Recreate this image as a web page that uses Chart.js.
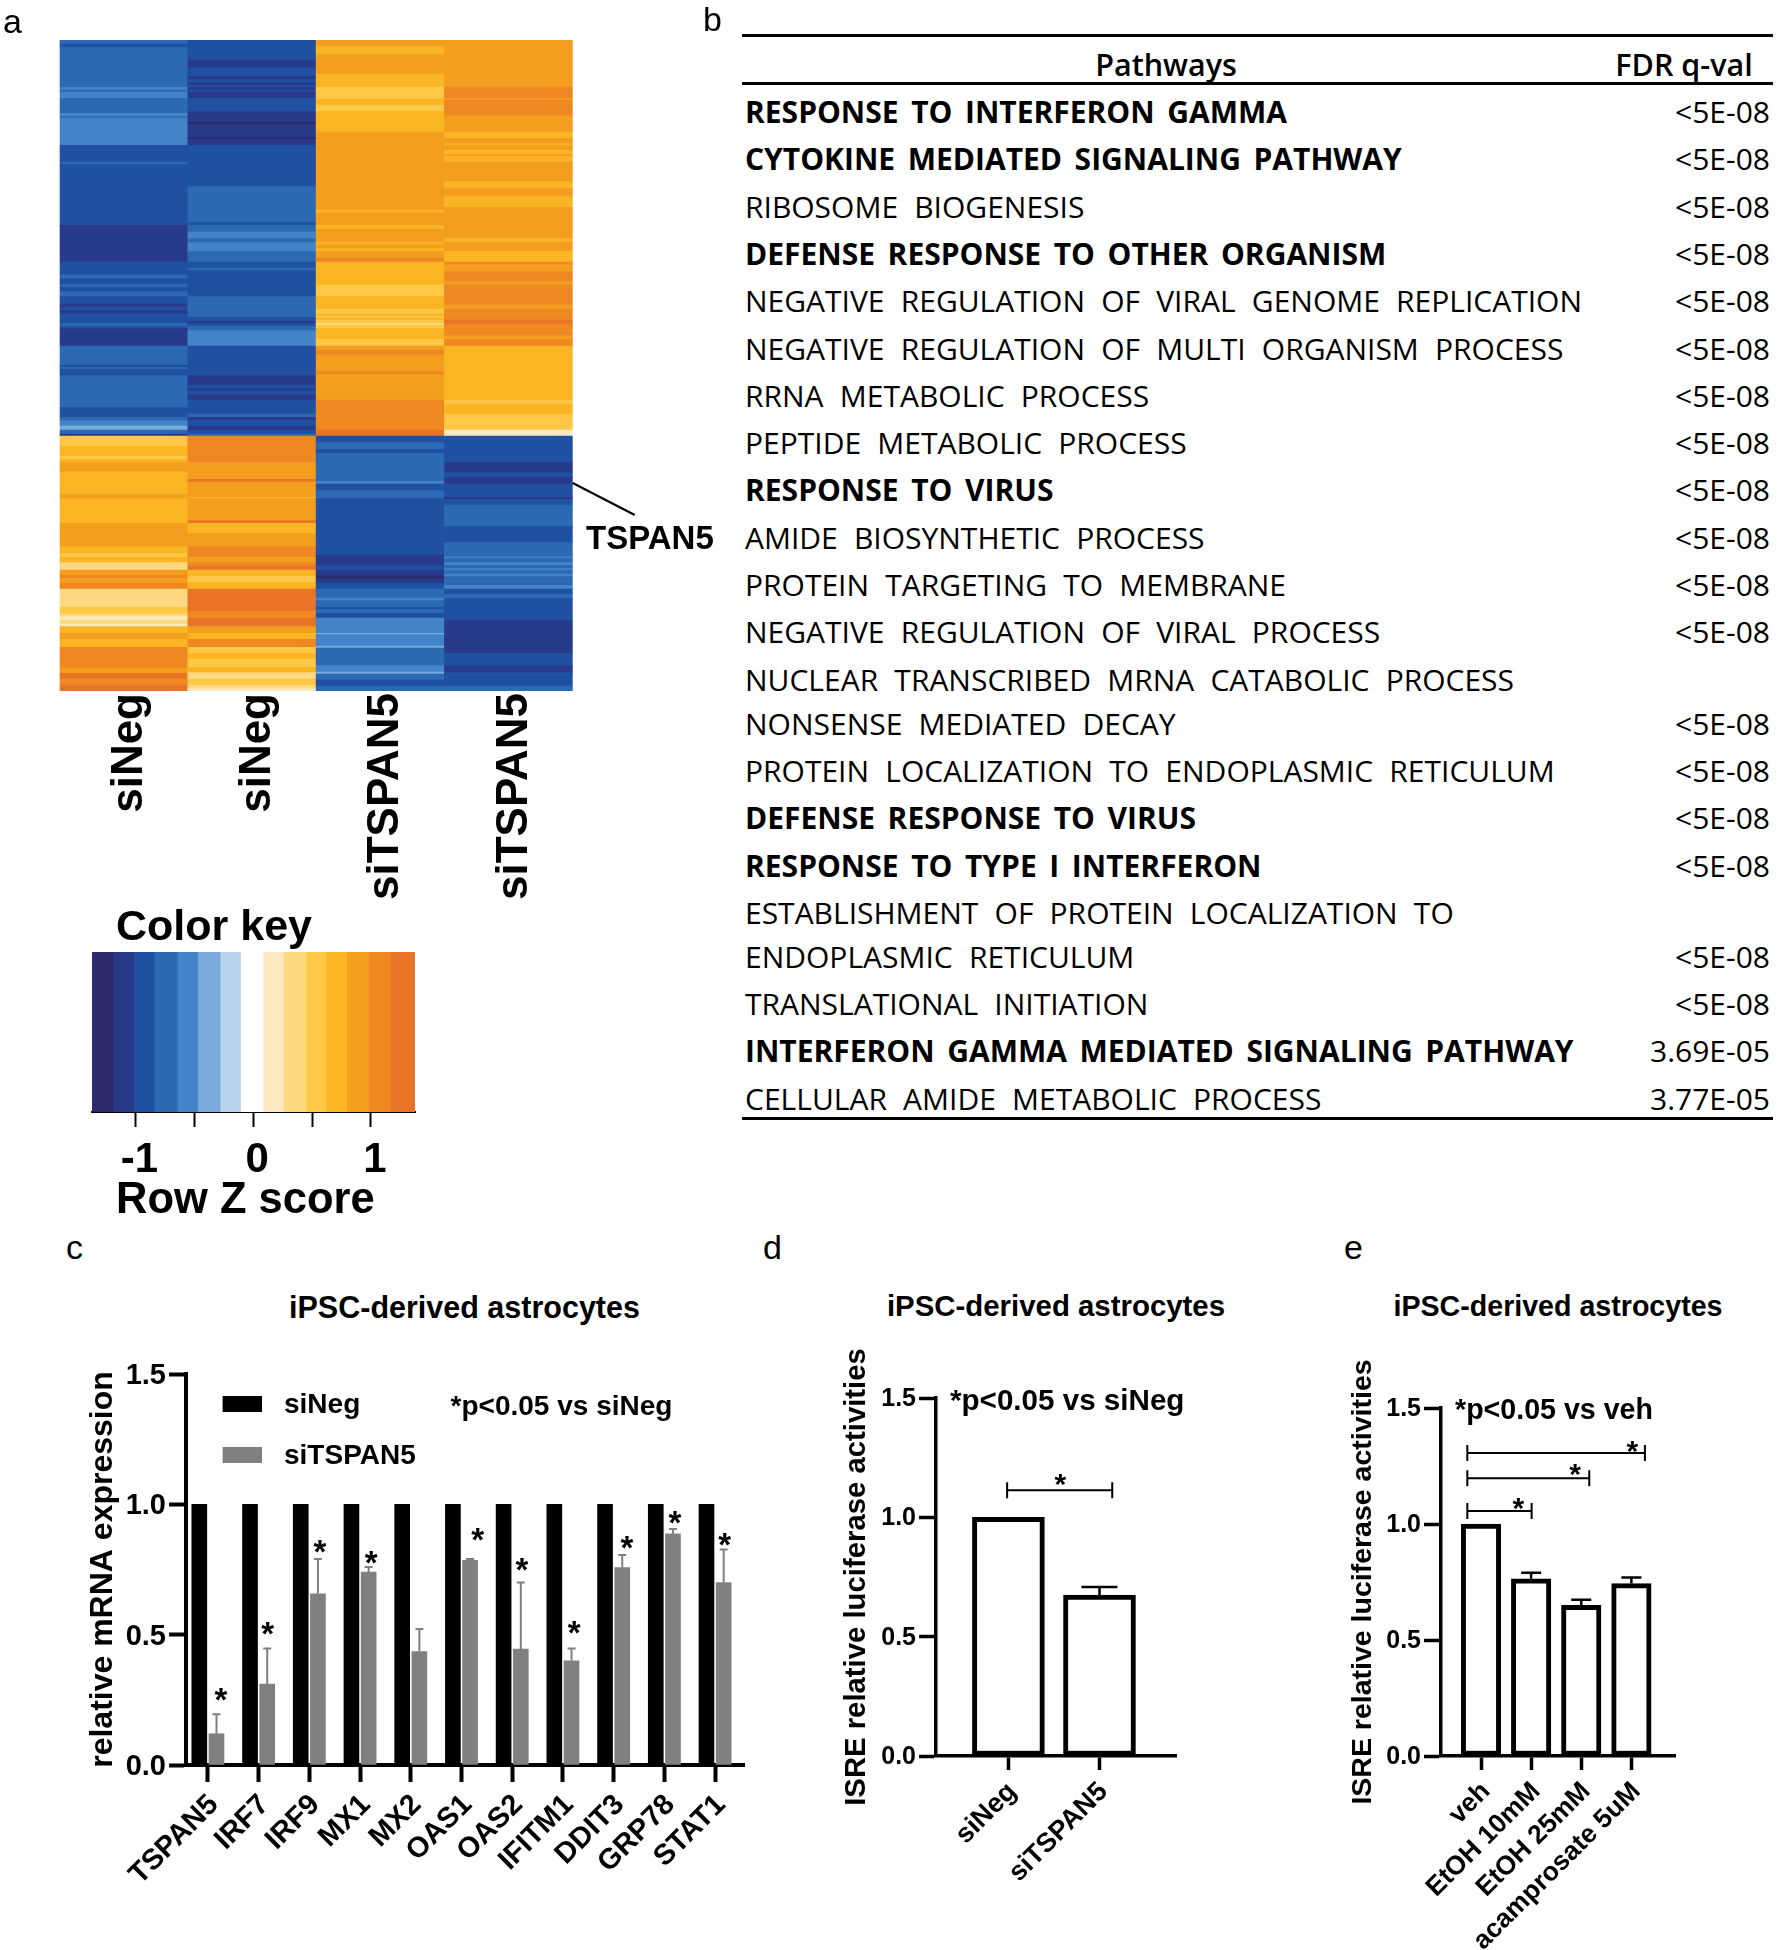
<!DOCTYPE html>
<html>
<head>
<meta charset="utf-8">
<title>TSPAN5 figure</title>
<script src="https://cdn.jsdelivr.net/npm/chart.js@4/dist/chart.umd.min.js"></script>
<style>
	body { margin: 0; background: #fff; width: 1778px; height: 1950px; overflow: hidden; position: relative; font-family: "Liberation Sans", sans-serif; color: #000; }
	canvas { position: absolute; }
	.txt { position: absolute; white-space: pre; transform: translateY(-50%); }
	.row { position: absolute; white-space: pre; font-family: "Open Sans", sans-serif; font-size: 30px; line-height: 34px; word-spacing: 0.28em; }
	.row.strong { font-weight: 700; word-spacing: 0.16em; }
	.head { position: absolute; white-space: pre; font-family: "Open Sans", sans-serif; font-size: 30.5px; font-weight: 600; transform: translate(-50%,-50%); }
	.rule { position: absolute; background: #000; left: 742px; width: 1031px; }
</style>
</head>
<body>
<canvas id="heat" width="720" height="900" style="left:0;top:30px"></canvas>
<canvas id="key" width="400" height="250" style="left:60px;top:940px"></canvas>
<canvas id="chartC" width="690" height="610" style="left:80px;top:1342px"></canvas>
<canvas id="chartD" width="370" height="620" style="left:830px;top:1332px"></canvas>
<canvas id="chartE" width="370" height="610" style="left:1335px;top:1342px"></canvas>
<script>
// heatmap: each column is a list of [last row of the run, colour level]
const heatSamples = ['siNeg', 'siNeg', 'siTSPAN5', 'siTSPAN5'];
const heatRowCount = 1953;
const tspan5Row = 1329;
const heatCol1 = [[12,3],[22,2],[142,3],[150,4],[156,3],[175,4],[220,3],[230,4],[234,3],[316,4],[366,2],[374,3],[556,2],[666,1],[705,2],[716,3],[732,2],[742,3],[755,2],[770,3],[792,2],[802,1],[812,2],[822,1],[850,2],[860,3],[866,2],[918,1],[975,3],[982,2],[988,3],[1007,2],[1103,3],[1132,2],[1142,3],[1158,4],[1170,5],[1182,3],[1188,1],
	[1220,10],[1248,11],[1258,10],[1267,11],[1295,12],[1364,11],[1376,12],[1450,11],[1520,12],[1540,11],[1552,10],[1568,11],[1590,9],[1605,12],[1615,13],[1630,12],[1647,13],[1702,9],[1722,10],[1730,9],[1740,8],[1752,9],[1760,8],[1780,11],[1798,12],[1822,11],[1885,13],[1900,12],[1916,14],[1935,13],[1953,14]];
const heatCol2 = [[60,2],[83,1],[110,2],[118,1],[128,2],[136,1],[142,2],[150,1],[156,2],[175,1],[215,2],[246,1],[254,0],[292,1],[298,0],[316,1],[440,2],[548,3],[556,2],[576,3],[596,4],[608,3],[635,4],[666,3],[684,2],[692,3],[770,2],[832,3],[845,2],[851,1],[858,2],[872,3],[918,4],[1007,2],[1035,1],[1045,2],[1053,1],[1065,2],[1080,1],[1122,2],[1132,3],[1142,1],[1158,2],[1170,1],[1182,2],[1188,3],
	[1267,13],[1318,12],[1326,14],[1372,12],[1376,11],[1442,12],[1450,14],[1480,11],[1520,12],[1552,13],[1568,12],[1578,13],[1590,14],[1608,11],[1628,10],[1647,11],[1714,14],[1734,13],[1760,14],[1780,12],[1798,11],[1822,13],[1840,10],[1857,11],[1882,10],[1898,11],[1918,9],[1936,10],[1946,9],[1953,8]];
const heatCol3 = [[20,12],[44,11],[102,12],[141,11],[177,10],[195,11],[215,10],[276,11],[510,12],[519,11],[556,12],[568,11],[606,12],[615,11],[626,12],[634,11],[654,12],[666,13],[735,11],[770,10],[808,11],[822,10],[828,11],[834,10],[840,11],[850,10],[856,9],[866,10],[898,11],[918,10],[930,12],[945,13],[995,12],[1004,13],[1080,12],[1170,13],[1188,14],
	[1208,2],[1228,3],[1240,2],[1324,3],[1332,4],[1352,2],[1376,3],[1545,2],[1577,1],[1590,2],[1608,1],[1616,0],[1630,1],[1647,2],[1674,3],[1682,4],[1702,3],[1708,2],[1720,3],[1734,2],[1780,4],[1784,5],[1818,4],[1824,5],[1877,3],[1896,4],[1902,5],[1920,3],[1940,2],[1953,3]];
const heatCol4 = [[141,12],[175,13],[180,12],[227,13],[276,12],[296,11],[311,12],[317,11],[330,12],[344,11],[350,12],[366,11],[425,12],[444,11],[470,12],[502,11],[595,12],[607,11],[634,12],[666,11],[674,13],[695,12],[724,13],[735,12],[795,13],[808,12],[840,13],[852,14],[887,13],[898,12],[918,13],[1080,11],[1092,10],[1123,11],[1170,10],[1188,8],
	[1267,2],[1298,1],[1312,2],[1332,1],[1372,2],[1378,1],[1395,2],[1460,3],[1508,2],[1550,3],[1556,4],[1568,3],[1576,4],[1586,3],[1592,4],[1602,3],[1610,4],[1636,3],[1647,4],[1662,2],[1676,3],[1742,2],[1840,1],[1877,2],[1898,1],[1938,2],[1953,3]];
const heatColumns = [heatCol1, heatCol2, heatCol3, heatCol4];

// colour key
const keyColors = ['#2d2a6c','#283a8a','#2050a2','#2b69b2','#4383c7','#7aaadb','#b9d3ec','#ffffff','#fdeac0','#fed980','#fec745','#f9b522','#f39e1f','#f08822','#ea7425'];
const keyEdges = [-1.369,-1.18,-1.007,-0.835,-0.64,-0.467,-0.275,-0.102,0.09,0.26,0.455,0.628,0.8,0.99,1.168,1.375];
const keyTicks = [-1,-0.5,0,0.5,1];

// panel b
const pathways = [
	'RESPONSE TO INTERFERON GAMMA',
	'CYTOKINE MEDIATED SIGNALING PATHWAY',
	'RIBOSOME BIOGENESIS',
	'DEFENSE RESPONSE TO OTHER ORGANISM',
	'NEGATIVE REGULATION OF VIRAL GENOME REPLICATION',
	'NEGATIVE REGULATION OF MULTI ORGANISM PROCESS',
	'RRNA METABOLIC PROCESS',
	'PEPTIDE METABOLIC PROCESS',
	'RESPONSE TO VIRUS',
	'AMIDE BIOSYNTHETIC PROCESS',
	'PROTEIN TARGETING TO MEMBRANE',
	'NEGATIVE REGULATION OF VIRAL PROCESS',
	'NUCLEAR TRANSCRIBED MRNA CATABOLIC PROCESS\nNONSENSE MEDIATED DECAY',
	'PROTEIN LOCALIZATION TO ENDOPLASMIC RETICULUM',
	'DEFENSE RESPONSE TO VIRUS',
	'RESPONSE TO TYPE I INTERFERON',
	'ESTABLISHMENT OF PROTEIN LOCALIZATION TO\nENDOPLASMIC RETICULUM',
	'TRANSLATIONAL INITIATION',
	'INTERFERON GAMMA MEDIATED SIGNALING PATHWAY',
	'CELLULAR AMIDE METABOLIC PROCESS',
];
const fdrValues = ['<5E-08','<5E-08','<5E-08','<5E-08','<5E-08','<5E-08','<5E-08','<5E-08','<5E-08','<5E-08','<5E-08','<5E-08','<5E-08','<5E-08','<5E-08','<5E-08','<5E-08','<5E-08','3.69E-05','3.77E-05'];
const boldPathways = [0, 1, 3, 8, 14, 15, 18];

// panel c
const genes = ['TSPAN5','IRF7','IRF9','MX1','MX2','OAS1','OAS2','IFITM1','DDIT3','GRP78','STAT1'];
const siNegValues = [1,1,1,1,1,1,1,1,1,1,1];
const siTspanValues = [0.12,0.31,0.657,0.74,0.435,0.785,0.445,0.40,0.757,0.887,0.70];
const siTspanErrors = [0.195,0.447,0.79,0.76,0.522,0.79,0.70,0.447,0.806,0.905,0.827];
const geneStars = [0.272,0.522,0.837,0.796,null,0.883,0.768,0.529,0.853,0.951,0.865];
const geneStarX = [0.256,1.18,2.21,3.22,null,5.32,6.19,7.22,8.26,9.21,10.19];

// panel d
const dLabels = ['siNeg','siTSPAN5'];
const dValues = [1,0.674];
const dErrors = [null,0.708];

// panel e
const eLabels = ['veh','EtOH 10mM','EtOH 25mM','acamprosate 5uM'];
const eValues = [1,0.764,0.649,0.743];
const eErrors = [null,0.79,0.673,0.769];

const FONT = '"Liberation Sans", sans-serif';
Chart.defaults.color = '#000';
Chart.defaults.font.family = FONT;
Chart.defaults.animation = false;
Chart.defaults.responsive = false;
Chart.defaults.devicePixelRatio = 1;
Chart.defaults.plugins.legend.display = false;
Chart.defaults.plugins.tooltip.enabled = false;

const addText = (text, x, y, size, weight, anchor) => {
	const el = document.createElement('div');
	el.className = 'txt';
	el.innerText = text;
	el.style.left = x + 'px';
	el.style.top = y + 'px';
	el.style.fontSize = size + 'px';
	el.style.fontWeight = weight || 'bold';
	if (anchor == 'center') el.style.transform = 'translate(-50%,-50%)';
	document.body.appendChild(el);
};

// fixed size for the axis boxes so the plot areas land where the figure has them
const fixedWidth = (w) => (scale) => { scale.width = w; };
const fixedHeight = (h) => (scale) => { scale.height = h; };
const ticksAt = (values) => (scale) => { scale.ticks = values.map((value) => ({ value })); };
const indexes = (list) => list.map((_, i) => i);

const drawStar = (ctx, x, y, size) => {
	ctx.save();
	ctx.font = `bold ${size}px ${FONT}`;
	ctx.textAlign = 'center';
	ctx.textBaseline = 'alphabetic';
	ctx.fillStyle = '#000';
	ctx.fillText('*', x, y + size * 0.5);
	ctx.restore();
};

const errorPlugin = (errors, capHalf, width, color) => ({
	id: 'errors',
	afterDatasetsDraw(chart) {
		const { ctx, scales } = chart;
		const meta = chart.getDatasetMeta(chart.data.datasets.length - 1);
		ctx.save();
		ctx.strokeStyle = color;
		ctx.lineWidth = width;
		errors.forEach((top, i) => {
			if (top == null) return;
			const bar = meta.data[i];
			const y = scales.y.getPixelForValue(top);
			ctx.beginPath();
			ctx.moveTo(bar.x, bar.y);
			ctx.lineTo(bar.x, y);
			ctx.moveTo(bar.x - capHalf, y);
			ctx.lineTo(bar.x + capHalf, y);
			ctx.stroke();
		});
		ctx.restore();
	},
});

// significance brackets given as [from, to, level, star x, star y]
const bracketPlugin = (brackets, capHalf) => ({
	id: 'brackets',
	afterDraw(chart) {
		const { ctx, scales } = chart;
		ctx.save();
		ctx.strokeStyle = '#000';
		ctx.lineWidth = 2;
		for (const [from, to, level, starX, starY] of brackets) {
			const x1 = scales.x.getPixelForValue(from);
			const x2 = scales.x.getPixelForValue(to);
			const y = scales.y.getPixelForValue(level);
			ctx.beginPath();
			ctx.moveTo(x1, y);
			ctx.lineTo(x2, y);
			ctx.moveTo(x1, y - capHalf);
			ctx.lineTo(x1, y + capHalf);
			ctx.moveTo(x2, y - capHalf);
			ctx.lineTo(x2, y + capHalf);
			ctx.stroke();
			drawStar(ctx, scales.x.getPixelForValue(starX), scales.y.getPixelForValue(starY), 30);
		}
		ctx.restore();
	},
});

const valueAxis = (title, titleSize, titlePad, tickSize, axisWidth, width, labelShift) => ({
	min: 0,
	max: 1.5,
	afterFit: fixedWidth(width),
	border: { color: '#000', width: axisWidth },
	grid: { drawOnChartArea: false, tickColor: '#000', tickWidth: axisWidth, tickLength: 17 },
	ticks: { stepSize: 0.5, padding: 3, labelOffset: labelShift, font: { size: tickSize, weight: 'bold' }, callback: (v) => v.toFixed(1) },
	title: { display: true, text: title, color: '#000', font: { size: titleSize, weight: 'bold' }, padding: { top: titlePad, bottom: 0 } },
});

const categoryAxis = (labels, min, max, tickSize, axisWidth, tickLen, height, padding, labelShift) => ({
	type: 'linear',
	bounds: 'data',
	offset: false,
	min,
	max,
	afterBuildTicks: ticksAt(indexes(labels)),
	afterFit: fixedHeight(height),
	border: { color: '#000', width: axisWidth },
	grid: { offset: false, drawOnChartArea: false, tickColor: '#000', tickWidth: axisWidth, tickLength: tickLen },
	ticks: {
		autoSkip: false,
		minRotation: 45,
		maxRotation: 45,
		padding,
		labelOffset: labelShift,
		font: { size: tickSize, weight: 'bold' },
		callback: (v) => labels[v],
	},
});

// panel a heatmap
const heatPoints = [];
const heatColors = [];
heatColumns.forEach((column, c) => {
	let start = 0;
	for (const [end, level] of column) {
		heatPoints.push({ x: c, y: [start, end] });
		heatColors.push(keyColors[level]);
		start = end;
	}
});

new Chart(document.getElementById('heat'), {
	type: 'bar',
	data: { datasets: [{ data: heatPoints, backgroundColor: heatColors, barThickness: 128.3, grouped: false }] },
	options: {
		layout: { padding: { left: 59.6, top: 10, right: 147.3, bottom: 0 } },
		scales: {
			x: {
				type: 'linear',
				bounds: 'data',
				offset: false,
				min: -0.5,
				max: 3.5,
				afterBuildTicks: ticksAt(indexes(heatSamples)),
				afterFit: fixedHeight(239),
				border: { display: false },
				grid: { offset: false, display: false },
				ticks: {
					autoSkip: false,
					minRotation: 90,
					maxRotation: 90,
					padding: -6,
					font: { size: 44, weight: 'bold' },
					labelOffset: 6,
					callback: (v) => heatSamples[v],
				},
			},
			y: { display: false, reverse: true, min: 0, max: heatRowCount },
		},
	},
	plugins: [{
		id: 'tspanLeader',
		afterDraw(chart) {
			const { ctx, scales } = chart;
			const x = scales.x.getPixelForValue(3.5);
			const y = scales.y.getPixelForValue(tspan5Row);
			ctx.save();
			ctx.strokeStyle = '#000';
			ctx.lineWidth = 2;
			ctx.beginPath();
			ctx.moveTo(x, y);
			ctx.lineTo(x + 62, y + 32);
			ctx.stroke();
			ctx.restore();
		},
	}],
});

// colour key
new Chart(document.getElementById('key'), {
	type: 'bar',
	data: {
		datasets: [{
			data: keyColors.map((_, i) => ({ y: 0, x: [keyEdges[i], keyEdges[i + 1]] })),
			backgroundColor: keyColors,
			barThickness: 160,
			grouped: false,
		}],
	},
	options: {
		indexAxis: 'y',
		layout: { padding: { left: 32, top: 12, right: 45, bottom: 0 } },
		scales: {
			x: {
				type: 'linear',
				bounds: 'data',
				min: keyEdges[0],
				max: keyEdges[keyEdges.length - 1],
				afterBuildTicks: ticksAt(keyTicks),
				afterFit: fixedHeight(78),
				border: { color: '#000', width: 2 },
				grid: { drawOnChartArea: false, tickColor: '#000', tickWidth: 2, tickLength: 15 },
				ticks: {
					autoSkip: false,
					maxRotation: 0,
					padding: 8,
					labelOffset: 4,
					font: { size: 42, weight: 'bold' },
					callback: (v) => (Number.isInteger(v) ? v : ''),
				},
			},
			y: { type: 'linear', bounds: 'data', offset: false, grid: { offset: false }, display: false, min: -0.5, max: 0.5 },
		},
	},
});

// panel c
new Chart(document.getElementById('chartC'), {
	type: 'bar',
	data: {
		datasets: [
			{ label: 'siNeg', data: siNegValues.map((y, x) => ({ x, y })), backgroundColor: '#000', barThickness: 17.2, maxBarThickness: 15 },
			{ label: 'siTSPAN5', data: siTspanValues.map((y, x) => ({ x, y })), backgroundColor: '#808080', barThickness: 17.2, maxBarThickness: 15 },
		],
	},
	options: {
		layout: { padding: { left: 0, top: 32, right: 26, bottom: 0 } },
		scales: {
			x: categoryAxis(genes, -0.4316, 10.57, 29, 4, 17, 187, 6, 6),
			y: valueAxis('relative mRNA expression', 32, 4, 29, 4, 106, 2),
		},
	},
	plugins: [errorPlugin(siTspanErrors, 4, 2, '#808080'), {
		id: 'starsAndLegend',
		afterDraw(chart) {
			const { ctx, scales } = chart;
			geneStars.forEach((s, i) => {
				if (s == null) return;
				drawStar(ctx, scales.x.getPixelForValue(geneStarX[i]), scales.y.getPixelForValue(s), 33);
			});
			ctx.save();
			ctx.font = `bold 28px ${FONT}`;
			ctx.textBaseline = 'middle';
			chart.data.datasets.forEach((ds, i) => {
				const y = 62 + i * 51;
				ctx.fillStyle = ds.backgroundColor;
				ctx.fillRect(142.6, y - 8, 39.4, 16);
				ctx.fillStyle = '#000';
				ctx.fillText(ds.label, 204, y + 1);
			});
			ctx.restore();
		},
	}],
});

// panel d
new Chart(document.getElementById('chartD'), {
	type: 'bar',
	data: {
		datasets: [{ data: dValues.map((y, x) => ({ x, y })), backgroundColor: '#fff', borderColor: '#000', borderWidth: 5, borderSkipped: false, barThickness: 72 }],
	},
	options: {
		layout: { padding: { left: 0, top: 66, right: 24, bottom: 0 } },
		scales: {
			x: categoryAxis(dLabels, -0.795, 1.84, 27, 3.5, 14, 196, 6, 4),
			y: valueAxis('ISRE relative luciferase activities', 29.3, 9, 25, 3.5, 106, 1),
		},
	},
	plugins: [errorPlugin(dErrors, 18, 2.5, '#000'), bracketPlugin([[-0.014, 1.14, 1.113, 0.57, 1.16]], 8)],
});

// panel e
new Chart(document.getElementById('chartE'), {
	type: 'bar',
	data: {
		datasets: [{ data: eValues.map((y, x) => ({ x, y })), backgroundColor: '#fff', borderColor: '#000', borderWidth: 5, borderSkipped: false, barThickness: 39.5 }],
	},
	options: {
		layout: { padding: { left: 0, top: 66, right: 30, bottom: 0 } },
		scales: {
			x: categoryAxis(eLabels, -0.798, 3.87, 26.5, 3.5, 14, 196, 6, 5),
			y: valueAxis('ISRE relative luciferase activities', 28.5, 11.5, 25, 3.5, 106, 1),
		},
	},
	plugins: [errorPlugin(eErrors, 10, 2.5, '#000'), bracketPlugin([
		[-0.273, 1.01, 1.056, 0.745, 1.09],
		[-0.273, 2.16, 1.197, 1.876, 1.235],
		[-0.273, 3.27, 1.306, 3.02, 1.335],
	], 8)],
});

// panel b table
const addRule = (y, h) => {
	const el = document.createElement('div');
	el.className = 'rule';
	el.style.top = y + 'px';
	el.style.height = h + 'px';
	document.body.appendChild(el);
};
const addHead = (text, x, y) => {
	const el = document.createElement('div');
	el.className = 'head';
	el.innerText = text;
	el.style.left = x + 'px';
	el.style.top = y + 'px';
	document.body.appendChild(el);
};
const addRow = (text, y, bold, right) => {
	const el = document.createElement('div');
	el.className = bold ? 'row strong' : 'row';
	el.innerText = text;
	el.style.top = y - 17 + 'px';
	if (right) el.style.right = 1778 - right + 'px';
	else el.style.left = '745px';
	document.body.appendChild(el);
};

addRule(33.5, 3);
addRule(81.5, 3);
addRule(1116.5, 3);
addHead('Pathways', 1166, 64);
addHead('FDR q-val', 1684, 64);

let rowY = 112;
pathways.forEach((name, i) => {
	const lines = name.split('\n');
	lines.forEach((line, j) => {
		if (j > 0) rowY += 44;
		addRow(line, rowY, boldPathways.includes(i));
	});
	addRow(fdrValues[i], rowY, false, 1770);
	rowY += 47.3;
});

// free text
addText('a', 3, 21, 34, 'normal');
addText('b', 703, 19, 34, 'normal');
addText('c', 66, 1247, 34, 'normal');
addText('d', 763, 1247, 34, 'normal');
addText('e', 1344, 1247, 34, 'normal');
addText('TSPAN5', 586, 538, 33);
addText('Color key', 116, 925, 43);
addText('Row Z score', 116, 1198, 43.5);
addText('iPSC-derived astrocytes', 464.5, 1307, 30.5, 'bold', 'center');
addText('iPSC-derived astrocytes', 1056, 1306, 29.4, 'bold', 'center');
addText('iPSC-derived astrocytes', 1558, 1306, 28.6, 'bold', 'center');
addText('*p<0.05 vs siNeg', 450.6, 1406, 28);
addText('*p<0.05 vs siNeg', 950, 1400, 29.6);
addText('*p<0.05 vs veh', 1455, 1409, 28.6);
</script>
</body>
</html>
